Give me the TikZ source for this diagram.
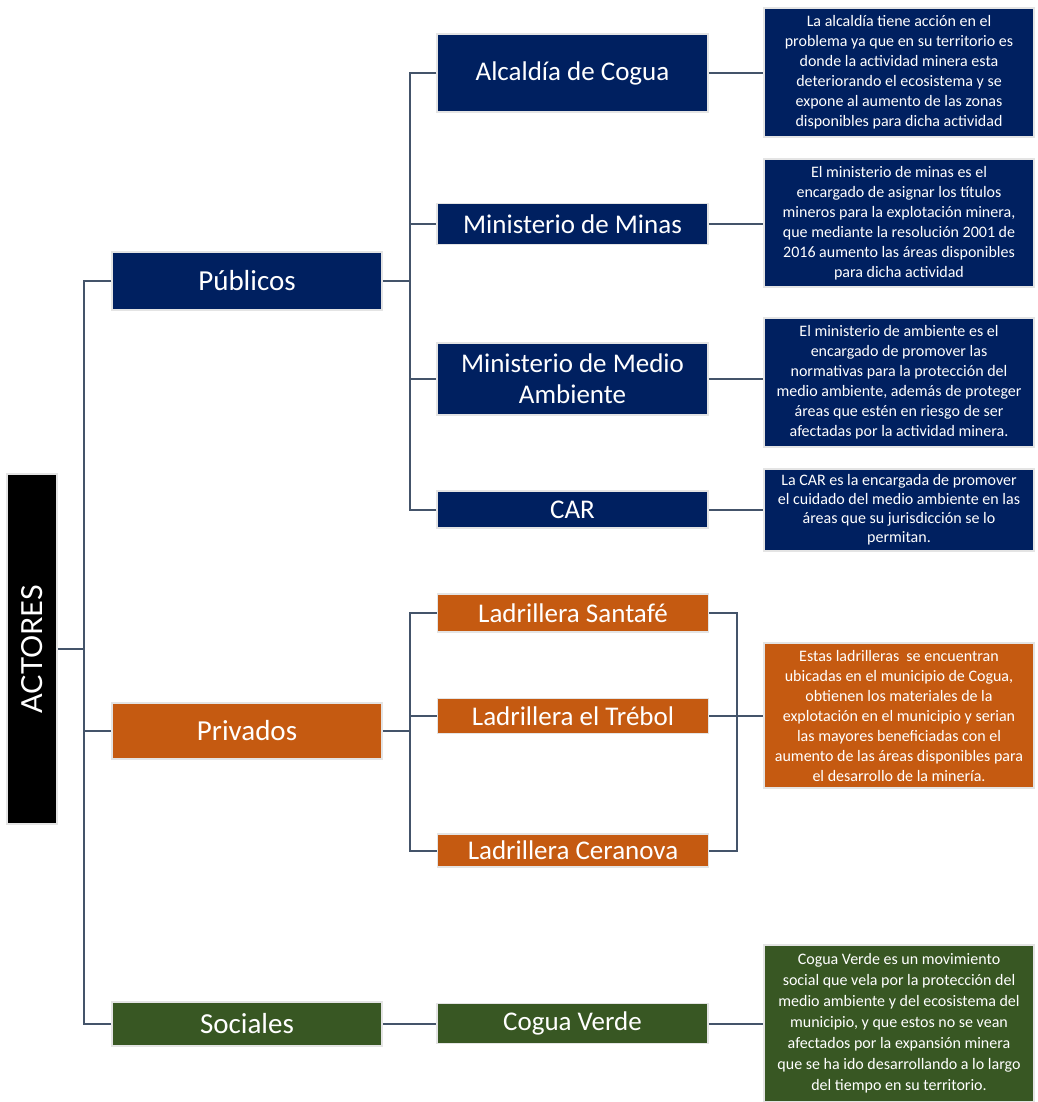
\documentclass[tikz,border=0pt]{standalone}
\usepackage{fontspec}
\setmainfont{Carlito}
\newfontfamily\actfont{Lato}
\definecolor{navy}{HTML}{002060}
\definecolor{orng}{HTML}{C55A11}
\definecolor{grn}{HTML}{385723}
\definecolor{lnk}{HTML}{44546A}
\definecolor{edge}{HTML}{E4E4E4}
\tikzset{
  box/.style={draw=edge, line width=1.5pt, text=white, align=center, inner sep=1pt, minimum width=271pt},
  title/.style={box, font=\fontsize{27}{29}\selectfont},
  desc/.style={box, minimum width=270pt, font=\fontsize{16}{20}\selectfont},
  conn/.style={draw=lnk, line width=2pt},
}
\begin{document}
\begin{tikzpicture}[x=1pt,y=-1pt]
\useasboundingbox (0,0) rectangle (1037,1102);
% root
\node[draw=edge, line width=1.5pt, fill=black, minimum width=50pt, minimum height=350pt, inner sep=0pt] (act) at (32,649) {};
\node[text=white, rotate=90, font=\actfont\fontsize{29}{30}\selectfont] (actt) at (act.center) {ACTORES};
% level 1
\node[title, fill=navy, minimum width=270pt, minimum height=58pt, font=\fontsize{29}{30}\selectfont] (pub) at (247,281) {Públicos};
\node[title, fill=orng, minimum width=270pt, minimum height=56pt, font=\fontsize{29}{30}\selectfont] (priv) at (247,731) {Privados};
\node[title, fill=grn, minimum width=270pt, minimum height=44pt, font=\fontsize{29}{30}\selectfont] (soc) at (247,1024) {Sociales};
% level 2
\node[title, fill=navy, minimum height=78pt] (alc) at (572.5,73) {Alcaldía de Cogua};
\node[title, fill=navy, minimum height=41pt] (min) at (572.5,224) {Ministerio de Minas};
\node[title, fill=navy, minimum height=72pt, font=\fontsize{27}{31}\selectfont] (mma) at (572.5,379) {Ministerio de Medio\\Ambiente};
\node[title, fill=navy, minimum height=37pt] (car) at (572.5,509.5) {CAR};
\node[title, fill=orng, minimum height=38pt] (san) at (573,613) {Ladrillera Santafé};
\node[title, fill=orng, minimum height=35pt] (tre) at (573,716) {Ladrillera el Trébol};
\node[title, fill=orng, minimum height=33pt] (cer) at (573,850.5) {Ladrillera Ceranova};
\node[title, fill=grn, minimum height=40pt] (cv) at (572.5,1023.5) {Cogua Verde};
% descriptions
\node[desc, fill=navy, minimum height=129pt] (d1) at (899,72.5) {La alcaldía tiene acción en el\\problema ya que en su territorio es\\donde la actividad minera esta\\deteriorando el ecosistema y se\\expone al aumento de las zonas\\disponibles para dicha actividad};
\node[desc, fill=navy, minimum height=128pt] (d2) at (899,223) {El ministerio de minas es el\\encargado de asignar los títulos\\mineros para la explotación minera,\\que mediante la resolución 2001 de\\2016 aumento las áreas disponibles\\para dicha actividad};
\node[desc, fill=navy, minimum height=129pt] (d3) at (899,382.5) {El ministerio de ambiente es el\\encargado de promover las\\normativas para la protección del\\medio ambiente, además de proteger\\áreas que estén en riesgo de ser\\afectadas por la actividad minera.};
\node[desc, fill=navy, minimum height=82pt, font=\fontsize{16}{19}\selectfont] (d4) at (899,510) {La CAR es la encargada de promover\\el cuidado del medio ambiente en las\\áreas que su jurisdicción se lo\\permitan.};
\node[desc, fill=orng, minimum height=145pt] (d5) at (899,715.5) {Estas ladrilleras\ \ se encuentran\\ubicadas en el municipio de Cogua,\\obtienen los materiales de la\\explotación en el municipio y serian\\las mayores beneficiadas con el\\aumento de las áreas disponibles para\\el desarrollo de la minería.};
\node[desc, fill=grn, minimum height=157pt, font=\fontsize{16}{21}\selectfont] (d6) at (899,1023.5) {Cogua Verde es un movimiento\\social que vela por la protección del\\medio ambiente y del ecosistema del\\municipio, y que estos no se vean\\afectados por la expansión minera\\que se ha ido desarrollando a lo largo\\del tiempo en su territorio.};
% junctions
\coordinate (tr) at (84,649);
\coordinate (jp) at (410,281);
\coordinate (jv) at (410,731);
\coordinate (rb) at (737,716);
% connectors: root level
\draw[conn] (act.east) -- (tr);
\draw[conn] (pub.west) -| (tr);
\draw[conn] (tr) |- (priv.west);
\draw[conn] (tr) |- (soc.west);
% publicos
\draw[conn, line width=2.5pt] (pub.east) -- (jp);
\draw[conn] (alc.west) -| (jp);
\draw[conn] (car.west) -| (jp);
\draw[conn] (jp |- min.west) -- (min.west);
\draw[conn] (jp |- mma.west) -- (mma.west);
% privados
\draw[conn, line width=2.5pt] (priv.east) -- (jv);
\draw[conn] (san.west) -| (jv);
\draw[conn] (cer.west) -| (jv);
\draw[conn] (jv |- tre.west) -- (tre.west);
% sociales
\draw[conn, line width=2.5pt] (soc.east) -- (soc.east -| cv.west);
% descriptions
\draw[conn] (alc.east) -- (d1.west |- alc.east);
\draw[conn] (min.east) -- (d2.west |- min.east);
\draw[conn] (mma.east) -- (d3.west |- mma.east);
\draw[conn] (car.east) -- (d4.west |- car.east);
\draw[conn] (san.east) -| (rb);
\draw[conn] (cer.east) -| (rb);
\draw[conn] (tre.east) -- (d5.west |- tre.east);
\draw[conn] (cv.east) -- (d6.west |- cv.east);
\end{tikzpicture}
\end{document}
